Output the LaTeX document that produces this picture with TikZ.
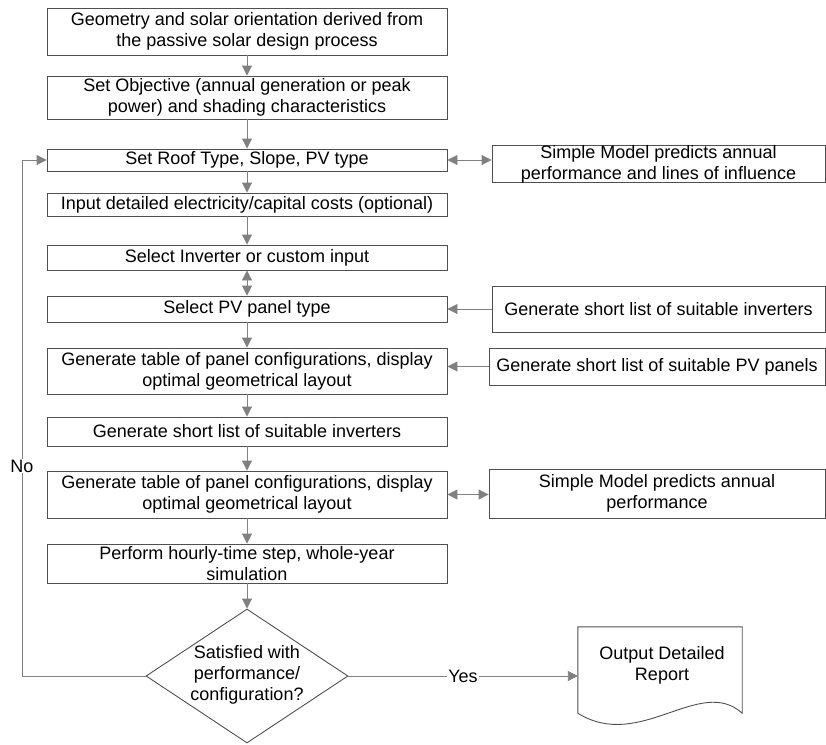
\documentclass[tikz,border=0pt]{standalone}
\usepackage{fontspec}
\setmainfont{Liberation Sans}
\usetikzlibrary{arrows.meta,shapes.geometric}
\definecolor{boxline}{HTML}{505050}
\definecolor{arrline}{HTML}{808080}
\begin{document}
\begin{tikzpicture}[x=1pt,y=-1pt,
 txt/.style={font=\fontsize{18}{21}\selectfont},
 box/.style={txt,draw=boxline,line width=0.9pt,inner sep=0pt,align=center},
 mainbox/.style={box,minimum width=400pt},
 arr/.style={draw=arrline,line width=0.9pt,-{Triangle[length=10pt,width=10pt]}},
 darr/.style={draw=arrline,line width=0.9pt,{Triangle[length=10pt,width=10pt]}-{Triangle[length=10pt,width=10pt]}},
 lbl/.style={txt,fill=white,inner sep=1pt}]
\useasboundingbox (0,0) rectangle (826,744);
% main column
\node[mainbox,minimum height=47pt] (b1) at (247,31.5) {Geometry and solar orientation derived from\\the passive solar design process};
\node[mainbox,minimum height=43pt] (b2) at (247,97.5) {Set Objective (annual generation or peak\\power) and shading characteristics};
\node[mainbox,minimum height=22pt] (b3) at (247,160) {Set Roof Type, Slope, PV type};
\node[mainbox,minimum height=23pt] (b4) at (247,204.5) {Input detailed electricity/capital costs (optional)};
\node[mainbox,minimum height=25pt] (b5) at (247,257.5) {Select Inverter or custom input};
\node[mainbox,minimum height=26pt] (b6) at (247,309) {Select PV panel type};
\node[mainbox,minimum height=46pt] (b7) at (247,371) {Generate table of panel configurations, display\\optimal geometrical layout};
\node[mainbox,minimum height=29pt] (b8) at (247,431.5) {Generate short list of suitable inverters};
\node[mainbox,minimum height=47pt] (b9) at (247,494.5) {Generate table of panel configurations, display\\optimal geometrical layout};
\node[mainbox,minimum height=39pt] (b10) at (247,563.5) {Perform hourly-time step, whole-year\\simulation};
\node[diamond,draw=boxline,line width=0.9pt,inner sep=0pt,minimum width=202pt,minimum height=134pt] (dec) at (247,676) {};
\node[txt,align=center,inner sep=0pt] (dectext) at (247,675) {Satisfied with\\performance/\\configuration?};
% right column
\node[box,minimum width=333pt,minimum height=34pt] (r1) at (658.5,164) {Simple Model predicts annual\\performance and lines of influence};
\node[box,minimum width=333pt,minimum height=46pt] (r2) at (658.5,309) {Generate short list of suitable inverters};
\node[box,minimum width=336pt,minimum height=37pt] (r3) at (657,366.5) {Generate short list of suitable PV panels};
\node[box,minimum width=336pt,minimum height=49pt] (r4) at (657,493.5) {Simple Model predicts annual\\performance};
% report (document shape)
\node[minimum width=164pt,minimum height=86pt,inner sep=0pt] (rep) at (660,670) {};
\draw[boxline,line width=0.9pt] (rep.south west) -- (rep.north west) -- (rep.north east) -- (rep.south east)
  .. controls (700,675) and (640,752) .. (rep.south west);
\node[txt,align=center,inner sep=0pt] (reptext) at (662,665) {Output Detailed\\Report};
% vertical connectors
\draw[arr] (b1) -- (b2);
\draw[arr] (b2) -- (b3);
\draw[arr] (b3) -- (b4);
\draw[arr] (b4) -- (b5);
\draw[darr] (b5) -- (b6);
\draw[arr] (b6) -- (b7);
\draw[arr] (b7) -- (b8);
\draw[arr] (b8) -- (b9);
\draw[arr] (b9) -- (b10);
\draw[arr] (b10) -- (dec);
% horizontal connectors
\draw[darr] (b3.east) -- (b3.east -| r1.west);
\draw[arr] (r2.west |- b6.east) -- (b6.east);
\draw[arr] (r3.west) -- (r3.west -| b7.east);
\draw[darr] (b9.east) -- (b9.east -| r4.west);
% decision outcomes
\coordinate (nocorner) at (22,676);
\draw[arr] (dec.west) -- (nocorner) |- (b3.west);
\node[lbl] (no) at (22,466) {No};
\draw[arr] (dec.east) -- (dec.east -| rep.west);
\node[lbl] (yes) at (463,676) {Yes};
\end{tikzpicture}
\end{document}
